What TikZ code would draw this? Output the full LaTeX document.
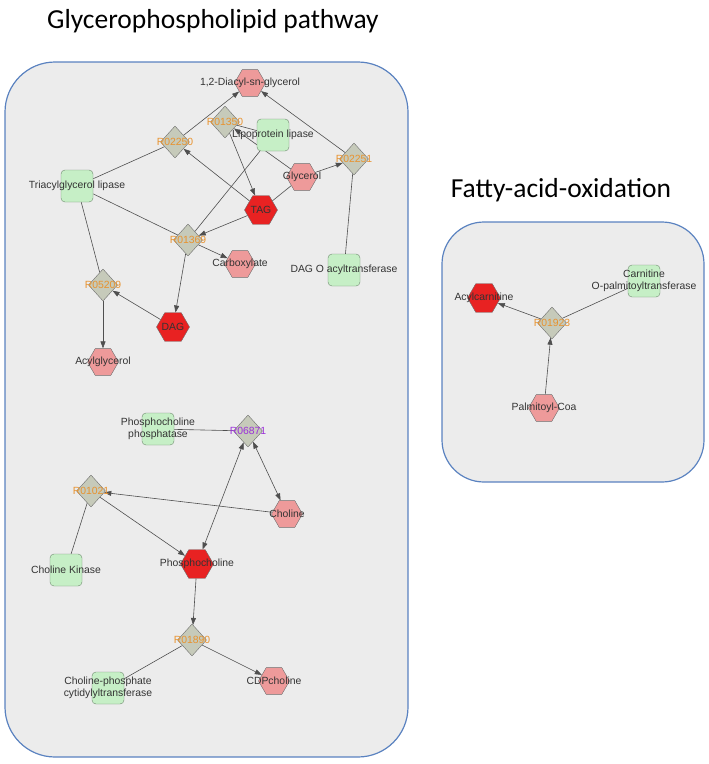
\documentclass[tikz,border=0pt]{standalone}
\usepackage{fontspec}
\setmainfont{Liberation Sans}
\newfontfamily\titlefont{Carlito}
\usetikzlibrary{shapes.geometric,arrows.meta}

\definecolor{boxfill}{HTML}{ECECEC}
\definecolor{boxline}{HTML}{5A82C0}
\definecolor{nodeline}{HTML}{6E6E6E}
\definecolor{rxnfill}{HTML}{C6CABA}
\definecolor{enzfill}{HTML}{C6EFC6}
\definecolor{enzline}{HTML}{6F8A6F}
\definecolor{metfill}{HTML}{EE9A9A}
\definecolor{hitfill}{HTML}{E82222}
\definecolor{rxntext}{HTML}{E8922E}
\definecolor{rxnpurple}{HTML}{9B30D9}
\definecolor{edgecol}{HTML}{4F4F4F}
\definecolor{labeltext}{HTML}{333333}

\pgfdeclarelayer{bg}
\pgfdeclarelayer{edges}
\pgfsetlayers{bg,edges,main}

\begin{document}
\begin{tikzpicture}[x=1pt,y=-1pt,
    lbl/.style={font=\fontsize{10.4}{12}\selectfont, text=labeltext, align=center, inner sep=0pt},
    rxnshape/.style={diamond, draw=nodeline, fill=rxnfill, minimum width=29pt, minimum height=32pt, inner sep=0pt},
    rxn/.style={rxnshape, label={[lbl,text=rxntext]center:#1}},
    rxnalt/.style={rxnshape, label={[lbl,text=rxnpurple]center:#1}},
    met/.style={regular polygon, regular polygon sides=6, draw=nodeline, fill=metfill, minimum size=31pt, inner sep=0pt, label={[lbl]center:#1}},
    hit/.style={met={#1}, fill=hitfill, minimum size=33pt},
    enz/.style={rectangle, rounded corners=4pt, draw=enzline, fill=enzfill, minimum size=32pt, inner sep=0pt, label={[lbl]center:#1}},
    link/.style={draw=edgecol, line width=0.6pt},
    arr/.style={link, -{Triangle[length=7pt,width=5pt]}},
    arrboth/.style={link, {Triangle[length=7pt,width=5pt]}-{Triangle[length=7pt,width=5pt]}},
    area/.style={draw=boxline, fill=boxfill, line width=1.2pt, rounded corners=50pt},
    title/.style={font=\titlefont\fontsize{27.5}{30}\selectfont, anchor=base, inner sep=0pt}]
    \useasboundingbox (0,0) rectangle (709,764);

    \node[title] (gpTitle) at (213,28) {Glycerophospholipid pathway};
    \node[title] (faoTitle) at (561,197) {Fatty-acid-oxidation};
    \begin{pgfonlayer}{bg}
        \draw[area] (5,62) rectangle (408,757);
        \draw[area, rounded corners=42pt] (442,222) rectangle (704,482);
    \end{pgfonlayer}

    \node[met={1,2-Diacyl-sn-glycerol}] (diacyl) at (250,83) {};
    \node[rxn=R01350] (R01350) at (225,122) {};
    \node[enz=Lipoprotein lipase] (lpl) at (273,135) {};
    \node[rxn=R02250] (R02250) at (175,142) {};
    \node[rxn=R02251] (R02251) at (354,159) {};
    \node[met=Glycerol] (glycerol) at (302,177) {};
    \node[enz=Triacylglycerol lipase] (tgl) at (77,186) {};
    \node[hit=TAG] (TAG) at (261,210) {};
    \node[rxn=R01369] (R01369) at (188,240) {};
    \node[met=Carboxylate] (carbox) at (240,264) {};
    \node[enz=DAG O acyltransferase] (dgat) at (344,270) {};
    \node[rxn=R05209] (R05209) at (103,285) {};
    \node[hit=DAG] (DAG) at (173,327) {};
    \node[met=Acylglycerol] (acylgly) at (103,362) {};

    \node[enz=Phosphocholine\\phosphatase] (pcp) at (158,429) {};
    \node[rxnalt=R06871] (R06871) at (248,431) {};
    \node[rxn=R01021] (R01021) at (91,491) {};
    \node[met=Choline] (choline) at (287,514) {};
    \node[hit=Phosphocholine] (pcho) at (197,564) {};
    \node[enz=Choline Kinase] (chk) at (66,570) {};
    \node[rxn=R01890] (R01890) at (192,640) {};
    \node[enz=Choline-phosphate\\cytidylyltransferase] (cct) at (108,688) {};
    \node[met=CDPcholine] (cdpcho) at (274,681) {};

    \node[hit=Acylcarnitine] (acylcarn) at (484,298) {};
    \node[enz=Carnitine\\O-palmitoyltransferase] (cpt) at (644,281) {};
    \node[rxn=R01923] (R01923) at (552,323) {};
    \node[met=Palmitoyl-Coa] (palcoa) at (544,408) {};

    \begin{pgfonlayer}{edges}
        \draw[arr] (R02250) -- (diacyl);
        \draw[link] (R02250) -- (tgl);
        \draw[arr] (TAG) -- (R02250);
        \draw[link] (lpl) -- (R01350);
        \draw[arr] (glycerol) -- (R01350);
        \draw[arr] (R01350) -- (TAG);
        \draw[arr] (R02251) -- (diacyl);
        \draw[arr] (glycerol) -- (R02251);
        \draw[link] (dgat) -- (R02251);
        \draw[link] (TAG) -- (glycerol);
        \draw[link] (lpl) -- (R01369);
        \draw[link] (tgl) -- (R01369);
        \draw[arr] (TAG) -- (R01369);
        \draw[arr] (R01369) -- (carbox);
        \draw[arr] (R01369) -- (DAG);
        \draw[arr] (DAG) -- (R05209);
        \draw[link] (tgl) -- (R05209);
        \draw[arr] (R05209) -- (acylgly);

        \draw[link] (pcp) -- (R06871);
        \draw[arrboth] (R06871) -- (choline);
        \draw[arrboth] (R06871) -- (pcho);
        \draw[arr] (choline) -- (R01021);
        \draw[arr] (R01021) -- (pcho);
        \draw[link] (R01021) -- (chk);
        \draw[arr] (pcho) -- (R01890);
        \draw[link] (R01890) -- (cct);
        \draw[arr] (R01890) -- (cdpcho);

        \draw[arr] (palcoa) -- (R01923);
        \draw[arr] (R01923) -- (acylcarn);
        \draw[link] (R01923) -- (cpt);
    \end{pgfonlayer}
\end{tikzpicture}
\end{document}
